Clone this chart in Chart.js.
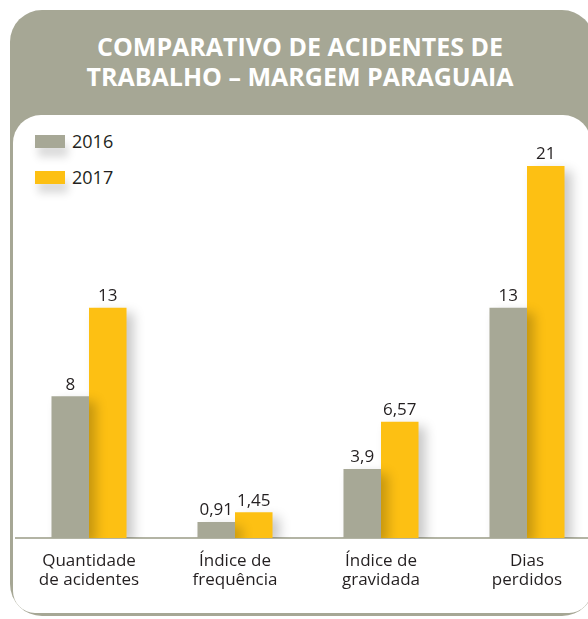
<!DOCTYPE html>
<html lang="pt">
<head>
  <meta charset="UTF-8" />
  <title>Comparativo de acidentes de trabalho</title>
  <script src="https://cdn.jsdelivr.net/npm/chart.js"></script>
  <style>
    body {
      margin: 0;
      width: 588px;
      height: 619px;
      overflow: hidden;
      position: relative;
      background: #fff;
      font-family: "Open Sans", sans-serif;
      color: #231f20;
    }

    #card {
      position: absolute;
      left: 10px;
      top: 10px;
      width: 584px;
      height: 606px;
      background: #a6a795;
      border-radius: 32px;
    }

    #title {
      position: absolute;
      left: 0;
      top: 21px;
      width: 580px;
      text-align: center;
      color: #fff;
      font-weight: bold;
      font-size: 25px;
      line-height: 30px;
    }

    #panel {
      position: absolute;
      left: 3px;
      top: 105px;
      right: 3px;
      bottom: 3px;
      background: #fff;
      border-radius: 28px 28px 22px 22px;
    }

    #legend {
      position: absolute;
      left: 35px;
      top: 128px;
      font-size: 18px;
    }

    .item {
      display: flex;
      align-items: center;
      height: 26px;
      margin-bottom: 10px;
    }

    .swatch {
      width: 30px;
      height: 13px;
      margin-right: 7px;
      box-shadow: 3px 9px 9px rgba(0,0,0,0.15);
    }

    #wrap {
      position: absolute;
      left: 13px;
      top: 120px;
      width: 600px;
      height: 485px;
    }
  </style>
</head>
<body>

  <div id="card">
    <div id="title">COMPARATIVO DE ACIDENTES DE<br>TRABALHO – MARGEM PARAGUAIA</div>
    <div id="panel"></div>
  </div>

  <div id="legend"></div>

  <div id="wrap"><canvas id="chart" width="600" height="485"></canvas></div>

  <script>
    const categories = [
      ['Quantidade', 'de acidentes'],
      ['Índice de', 'frequência'],
      ['Índice de', 'gravidada'],
      ['Dias', 'perdidos']
    ];
    const years = ['2016', '2017'];
    const values2016 = [8, 0.91, 3.9, 13];
    const values2017 = [13, 1.45, 6.57, 21];
    const colors = ['#a7a896', '#fdc013'];

    // legend in html
    const legend = document.getElementById('legend');
    years.forEach((y, i) => {
      legend.innerHTML += '<div class="item"><span class="swatch" style="background:' + colors[i] + '"></span>' + y + '</div>';
    });

    const shadowPlugin = {
      id: 'barShadow',
      beforeDatasetsDraw(chart) {
        const ctx = chart.ctx;
        ctx.save();
        ctx.shadowColor = 'rgba(0,0,0,0.22)';
        ctx.shadowBlur = 12;
        ctx.shadowOffsetX = 7;
        ctx.shadowOffsetY = 5;
      },
      afterDatasetsDraw(chart) {
        chart.ctx.restore();
      }
    };

    const valueLabels = {
      id: 'valueLabels',
      afterDraw(chart) {
        const ctx = chart.ctx;
        ctx.save();
        ctx.font = '17px "Open Sans"';
        ctx.fillStyle = '#231f20';
        ctx.textAlign = 'center';
        ctx.textBaseline = 'bottom';
        chart.data.datasets.forEach((ds, i) => {
          chart.getDatasetMeta(i).data.forEach((bar, j) => {
            const txt = String(ds.data[j]).replace('.', ',');
            ctx.fillText(txt, bar.x, bar.y - 3);
          });
        });
        ctx.restore();
      }
    };

    new Chart(document.getElementById('chart'), {
      type: 'bar',
      data: {
        labels: categories,
        datasets: [
          { label: years[0], data: values2016, backgroundColor: colors[0] },
          { label: years[1], data: values2017, backgroundColor: colors[1] }
        ]
      },
      options: {
        responsive: false,
        animation: false,
        layout: { padding: { left: 3, right: 13 } },
        categoryPercentage: 0.514,
        barPercentage: 1,
        plugins: {
          legend: { display: false },
          tooltip: { enabled: false }
        },
        scales: {
          x: {
            grid: { display: false },
            border: { display: true, color: '#b3b4a4', width: 2 },
            ticks: {
              color: '#231f20',
              font: { family: 'Open Sans', size: 17, lineHeight: 1.15 },
              padding: 5,
              maxRotation: 0
            },
            afterFit(scale) { scale.height = 67; }
          },
          y: {
            display: false,
            min: 0,
            max: 23.6
          }
        }
      },
      plugins: [shadowPlugin, valueLabels]
    });
  </script>

</body>
</html>
